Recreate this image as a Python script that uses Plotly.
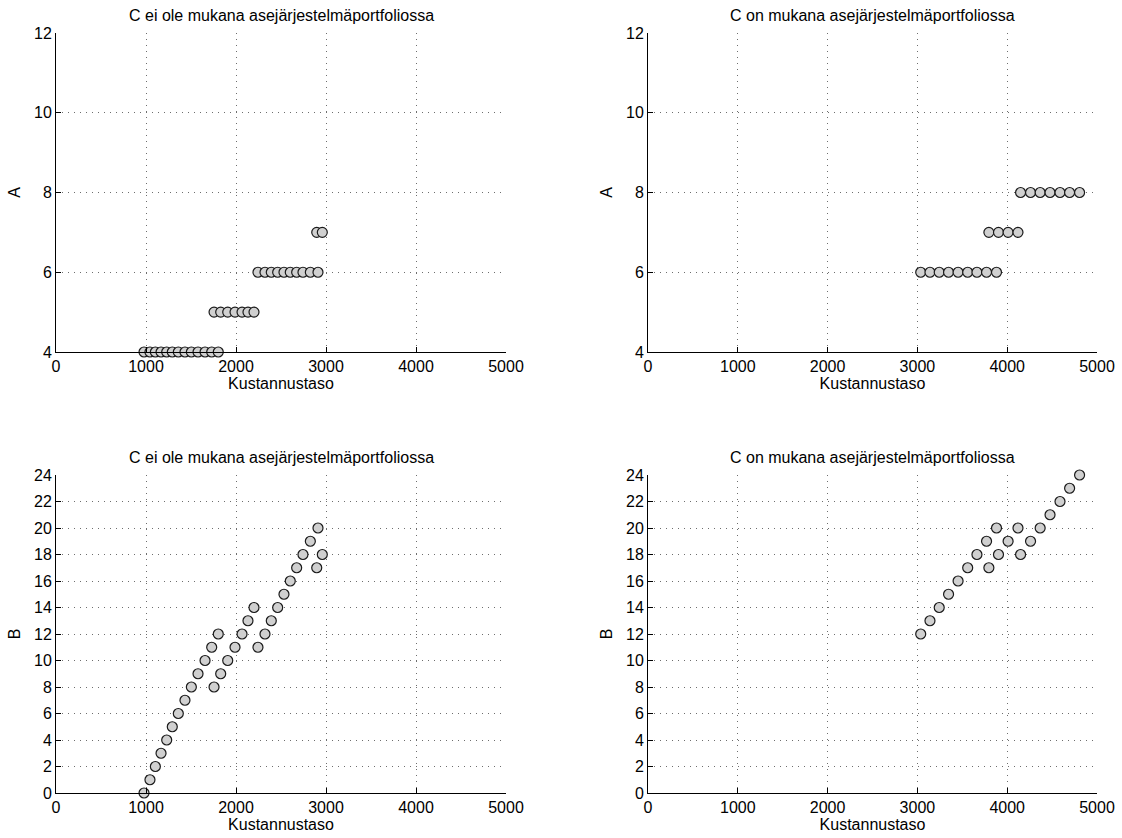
import plotly.graph_objects as go

# ---- Data ----
cost_noC = [978, 1044, 1104, 1167, 1230, 1292, 1359, 1433, 1504, 1578, 1656, 1730, 1803,
            1756, 1830, 1908, 1989, 2067, 2133, 2200,
            2244, 2322, 2392, 2463, 2533, 2603, 2674, 2744, 2826, 2911,
            2897, 2959]
A_noC = [4] * 13 + [5] * 7 + [6] * 10 + [7] * 2
B_noC = [0, 1, 2, 3, 4, 5, 6, 7, 8, 9, 10, 11, 12,
         8, 9, 10, 11, 12, 13, 14,
         11, 12, 13, 14, 15, 16, 17, 18, 19, 20,
         17, 18]

cost_C = [3037, 3140, 3243, 3347, 3453, 3560, 3663, 3770, 3881,
          3796, 3903, 4010, 4120,
          4149, 4260, 4367, 4477, 4588, 4695, 4806]
A_C = [6] * 9 + [7] * 4 + [8] * 7
B_C = [12, 13, 14, 15, 16, 17, 18, 19, 20,
       17, 18, 19, 20,
       18, 19, 20, 21, 22, 23, 24]

title_noC = "C ei ole mukana asejärjestelmäportfoliossa"
title_C = "C on mukana asejärjestelmäportfoliossa"
xlabel = "Kustannustaso"
x_ticks = [0, 1000, 2000, 3000, 4000, 5000]
yA_ticks = [4, 6, 8, 10, 12]
yB_ticks = list(range(0, 25, 2))

W, H = 1122, 838
FONT = "Liberation Sans, Arial, sans-serif"
FS = 16

def px_x(a, b):
    return [a / W, b / W]

def px_y(top, bottom):
    return [(H - bottom) / H, (H - top) / H]

panels = [
    ("x", "y", px_x(56, 506), px_y(33, 352), cost_noC, A_noC, "A", [4, 12], yA_ticks, title_noC),
    ("x2", "y2", px_x(648, 1097), px_y(33, 352), cost_C, A_C, "A", [4, 12], yA_ticks, title_C),
    ("x3", "y3", px_x(56, 506), px_y(475, 793), cost_noC, B_noC, "B", [0, 24], yB_ticks, title_noC),
    ("x4", "y4", px_x(648, 1097), px_y(475, 793), cost_C, B_C, "B", [0, 24], yB_ticks, title_C),
]

fig = go.Figure()
layout = dict(
    width=W, height=H,
    margin=dict(l=0, r=0, t=0, b=0),
    paper_bgcolor="white", plot_bgcolor="white",
    showlegend=False,
    font=dict(family=FONT, size=FS, color="black"),
)
annotations = []
grid_common = dict(
    showgrid=True, gridcolor="#6e6e6e", gridwidth=1, griddash="1px,5px",
    zeroline=False, showline=True, linecolor="black", linewidth=1, mirror=False,
    ticks="inside", ticklen=5, tickcolor="black", tickwidth=1,
    tickfont=dict(family=FONT, size=FS, color="black"),
    automargin=False,
)
for i, (xa, ya, xd, yd, xs, ys, ylab, yr, yt, title) in enumerate(panels):
    fig.add_trace(go.Scatter(
        x=xs, y=ys, mode="markers", xaxis=xa, yaxis=ya, cliponaxis=False,
        marker=dict(symbol="circle", size=10, color="#d0d0d0",
                    line=dict(color="#1a1a1a", width=1.2)),
        hoverinfo="x+y",
    ))
    xkey = "xaxis" if xa == "x" else "xaxis" + xa[1:]
    ykey = "yaxis" if ya == "y" else "yaxis" + ya[1:]
    layout[xkey] = dict(
        domain=xd, anchor=ya, range=[0, 5000], tickvals=x_ticks,
        ticktext=[str(v) for v in x_ticks], ticklabelstandoff=0,
        title=dict(text=xlabel, font=dict(family=FONT, size=FS), standoff=0),
        **grid_common,
    )
    layout[ykey] = dict(
        domain=yd, anchor=xa, range=yr, tickvals=yt,
        ticktext=[str(v) for v in yt],
        title=dict(text=ylab, font=dict(family=FONT, size=FS), standoff=9),
        **grid_common,
    )
    annotations.append(dict(
        text=title, xref="paper", yref="paper",
        x=(xd[0] + xd[1]) / 2, y=yd[1], yanchor="bottom", xanchor="center",
        yshift=7, showarrow=False, font=dict(family=FONT, size=FS, color="black"),
    ))
layout["annotations"] = annotations
fig.update_layout(**layout)
fig.write_html(
    "out.html",
    config={"displayModeBar": False},
    post_script="document.body.style.margin='0';document.body.style.overflow='hidden';",
)
